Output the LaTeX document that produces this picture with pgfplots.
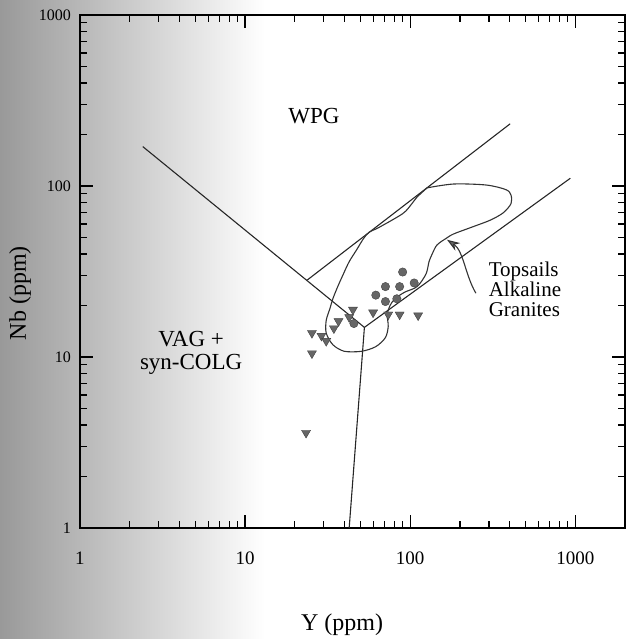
\documentclass[border=0pt]{standalone}
\usepackage{fontspec}
\setmainfont{Liberation Serif}
\usepackage{pgfplots}
\pgfplotsset{compat=1.18}
\usetikzlibrary{arrows.meta}
\begin{document}
\begin{tikzpicture}
\useasboundingbox (-80pt,-111pt) rectangle (547pt,528pt);
\shade[left color=black!40, right color=white] (-80pt,-111pt) rectangle (185pt,528pt);
\begin{axis}[
  xmode=log, ymode=log,
  scale only axis, width=545pt, height=513pt,
  xmin=1, xmax=2000, ymin=1, ymax=1000,
  clip=false,
  /pgf/number format/assume math mode=true,
  axis line style={line width=1.2pt},
  xtick pos=both, ytick pos=both,
  xtick align=inside, ytick align=inside,
  tickwidth=13pt, subtickwidth=7pt,
  major tick style={draw=black, line width=1.4pt},
  minor tick style={draw=black, line width=1.2pt},
  xtick={1,10,100,1000}, xticklabels={1,10,100,1000},
  ytick={1,10,100,1000}, yticklabels={1,10,100,1000},
  minor xtick={2,3,4,5,6,7,8,9,20,30,40,50,60,70,80,90,200,300,400,500,600,700,800,900},
  minor ytick={2,3,4,5,6,7,8,9,20,30,40,50,60,70,80,90,200,300,400,500,600,700,800,900},
  xticklabel style={font=\fontsize{19}{19}\selectfont, inner sep=0pt, yshift=-24pt},
  yticklabel style={font=\fontsize{16}{16}\selectfont, inner sep=0pt, xshift=-9pt},
  xlabel={Y (ppm)}, ylabel={Nb (ppm)},
  xlabel style={font=\fontsize{24}{24}\selectfont, at={(axis description cs:0.481,-0.189)}, anchor=center},
  ylabel style={font=\fontsize{24}{24}\selectfont, at={(axis description cs:-0.11,0.458)}, anchor=center},
]
% explicit tick marks (all four sides)
\pgfplotsinvokeforeach{2,3,4,5,6,7,8,9,20,30,40,50,60,70,80,90,200,300,400,500,600,700,800,900}{
  \draw[black, line width=1.2pt] (axis cs:#1,1) -- ([yshift=7pt]axis cs:#1,1);
  \draw[black, line width=1.2pt] (axis cs:#1,1000) -- ([yshift=-7pt]axis cs:#1,1000);
  \draw[black, line width=1.2pt] (axis cs:1,#1) -- ([xshift=7pt]axis cs:1,#1);
  \draw[black, line width=1.2pt] (axis cs:2000,#1) -- ([xshift=-7pt]axis cs:2000,#1);
}
\pgfplotsinvokeforeach{10,100,1000}{
  \draw[black, line width=1.4pt] (axis cs:#1,1) -- ([yshift=13pt]axis cs:#1,1);
  \draw[black, line width=1.4pt] (axis cs:#1,1000) -- ([yshift=-13pt]axis cs:#1,1000);
}
\pgfplotsinvokeforeach{10,100}{
  \draw[black, line width=1.4pt] (axis cs:1,#1) -- ([xshift=13pt]axis cs:1,#1);
  \draw[black, line width=1.4pt] (axis cs:2000,#1) -- ([xshift=-13pt]axis cs:2000,#1);
}
% discrimination boundaries
\addplot[black!85, line width=1.1pt] coordinates {(2.4,170) (52.8,14.9) (933,111)};
\addplot[black!85, line width=1.1pt] coordinates {(52.8,14.9) (42.7,1)};
\addplot[black!85, line width=1.1pt] coordinates {(23.8,28.2) (403,231)};
% Topsails field
\addplot[black!80, line width=1.1pt, smooth, tension=0.5] coordinates {
(126.4,97.5) (183.3,102.7) (289,101.3) (381,95.1) (408,88.3) (408,78.9)
(366,69.7) (305,63.1) (232,57.1) (183,52.4) (164,49.2) (145,45.1)
(135.5,39.8) (130,36.1) (124.7,30.6) (110,25.8) (92.3,23.9) (80.9,21.9)
(75.7,20.1) (72.6,17.7) (73.6,15.1) (70.8,13.0) (61.9,11.5) (50.7,10.8)
(39.9,10.8) (34.0,11.8) (31.0,13.8) (31.0,16.4) (32.7,19.3) (34.0,21.9)
(36.4,25.8) (39.4,30.6) (42.7,36.1) (47.4,42.4) (52.1,49.2) (56.4,53.7)
(64.4,57.1) (90.0,68.9) (101.4,77.9) (110,86.1) (126.4,97.5)};
% samples
\addplot[only marks, mark=*, mark size=4.2pt, mark options={fill=black!60, draw=black!75}] coordinates {
(90.0,31.4) (105.7,27.1) (70.8,25.8) (86.3,25.8) (61.9,23.0) (70.8,21.1) (83.0,21.9) (45.6,15.7)};
\addplot[only marks, mark=triangle*, mark size=5.2pt, mark options={rotate=180, fill=black!60, draw=black!75}] coordinates {
(45.0,18.9) (59.6,18.2) (73.6,17.7) (86.3,17.7) (111.7,17.5) (36.8,16.2) (42.7,17.1)
(34.5,14.7) (25.4,13.8) (29.0,13.3) (31.0,12.4) (25.4,10.5) (23.4,3.6)};
% arrow
\draw[black!80, line width=1.1pt, -{Stealth[length=13pt, width=9pt, fill=black!60]}]
  (axis cs:250,23.6) .. controls (axis cs:216,29.9) and (axis cs:210,41.9) .. (axis cs:167,48.5);
% labels
\node[font=\fontsize{23}{23}\selectfont] at (axis cs:26.1,257) {WPG};
\node[font=\fontsize{23}{23}\selectfont, align=center] at (axis cs:4.71,10.6) {VAG +\\syn-COLG};
\node[font=\fontsize{21}{20}\selectfont, align=left, anchor=west] at (axis cs:285,24.8) {Topsails\\Alkaline\\Granites};
\end{axis}
\end{tikzpicture}
\end{document}
